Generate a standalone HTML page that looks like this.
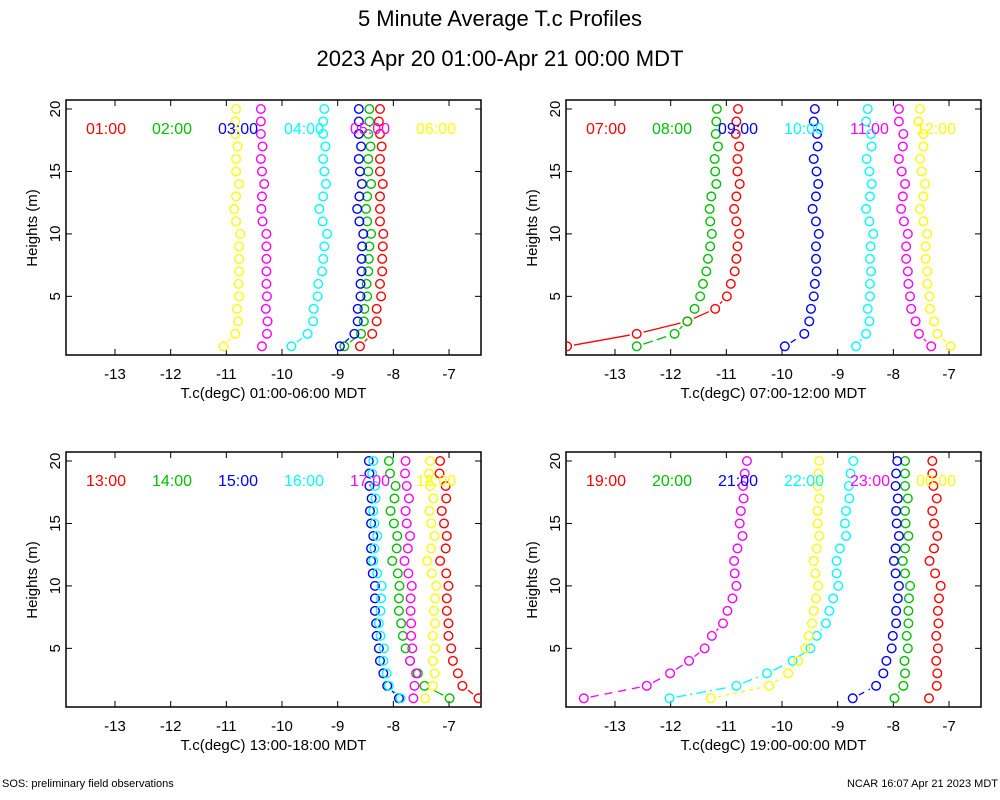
<!DOCTYPE html>
<html><head><meta charset="utf-8"><style>
body{margin:0;background:#fff;}
svg{display:block;font-family:"Liberation Sans",sans-serif;}
</style></head><body>
<svg id="chart" width="1000" height="800" viewBox="0 0 1000 800" xmlns="http://www.w3.org/2000/svg">
<text x="500" y="26" font-size="22" text-anchor="middle">5 Minute Average T.c Profiles</text>
<text x="500" y="66" font-size="22" text-anchor="middle">2023 Apr 20 01:00-Apr 21 00:00 MDT</text>
<text x="2" y="787" font-size="11">SOS: preliminary field observations</text>
<text x="998" y="787" font-size="11" text-anchor="end">NCAR 16:07 Apr 21 2023 MDT</text>
</svg>
<script>
const heights=[1,2,3,4,5,6,7,8,9,10,11,12,13,14,15,16,17,18,19,20];
const xTicks=[-13,-12,-11,-10,-9,-8,-7];
const yTicks=[5,10,15,20];
const colors=["#ff0000","#00c000","#0000ff","#00ffff","#ff00ff","#ffff00"];
const panelLabels=[["01:00","02:00","03:00","04:00","05:00","06:00"],["07:00","08:00","09:00","10:00","11:00","12:00"],["13:00","14:00","15:00","16:00","17:00","18:00"],["19:00","20:00","21:00","22:00","23:00","00:00"]];
const panelTitles=["T.c(degC) 01:00-06:00 MDT","T.c(degC) 07:00-12:00 MDT","T.c(degC) 13:00-18:00 MDT","T.c(degC) 19:00-00:00 MDT"];
const p1=[
[-8.60,-8.38,-8.30,-8.30,-8.22,-8.24,-8.20,-8.20,-8.19,-8.18,-8.24,-8.24,-8.24,-8.19,-8.24,-8.24,-8.21,-8.24,-8.26,-8.24],
[-8.88,-8.58,-8.53,-8.52,-8.47,-8.48,-8.45,-8.44,-8.43,-8.40,-8.47,-8.49,-8.47,-8.40,-8.45,-8.45,-8.41,-8.45,-8.43,-8.43],
[-8.96,-8.70,-8.64,-8.64,-8.59,-8.59,-8.57,-8.57,-8.56,-8.54,-8.61,-8.65,-8.61,-8.565,-8.60,-8.62,-8.58,-8.62,-8.62,-8.62],
[-9.83,-9.54,-9.44,-9.43,-9.36,-9.35,-9.28,-9.26,-9.24,-9.19,-9.27,-9.33,-9.26,-9.21,-9.24,-9.26,-9.22,-9.26,-9.26,-9.24],
[-10.36,-10.27,-10.26,-10.29,-10.27,-10.28,-10.28,-10.28,-10.28,-10.28,-10.35,-10.37,-10.36,-10.32,-10.36,-10.38,-10.35,-10.38,-10.38,-10.38],
[-11.05,-10.84,-10.79,-10.81,-10.77,-10.78,-10.77,-10.77,-10.77,-10.75,-10.825,-10.86,-10.825,-10.77,-10.825,-10.825,-10.80,-10.84,-10.84,-10.825]];
const p2=[
[-13.86,-12.61,-11.70,-11.20,-10.99,-10.92,-10.85,-10.82,-10.80,-10.77,-10.82,-10.86,-10.82,-10.76,-10.80,-10.80,-10.77,-10.83,-10.82,-10.79],
[-12.61,-11.93,-11.70,-11.57,-11.47,-11.42,-11.36,-11.33,-11.29,-11.26,-11.29,-11.30,-11.27,-11.18,-11.20,-11.21,-11.15,-11.19,-11.18,-11.17],
[-9.95,-9.60,-9.51,-9.48,-9.43,-9.41,-9.38,-9.39,-9.39,-9.34,-9.39,-9.45,-9.39,-9.35,-9.38,-9.43,-9.36,-9.37,-9.43,-9.41],
[-8.67,-8.49,-8.43,-8.46,-8.42,-8.42,-8.40,-8.42,-8.41,-8.36,-8.43,-8.49,-8.42,-8.39,-8.43,-8.48,-8.39,-8.40,-8.49,-8.46],
[-7.32,-7.54,-7.60,-7.68,-7.70,-7.73,-7.74,-7.77,-7.77,-7.74,-7.81,-7.86,-7.83,-7.79,-7.85,-7.90,-7.83,-7.82,-7.90,-7.90],
[-6.97,-7.21,-7.27,-7.34,-7.35,-7.39,-7.39,-7.42,-7.42,-7.39,-7.46,-7.52,-7.46,-7.43,-7.49,-7.52,-7.46,-7.46,-7.55,-7.52]];
const p3=[
[-6.47,-6.76,-6.84,-6.93,-6.96,-7.01,-7.01,-7.04,-7.04,-7.01,-7.05,-7.16,-7.06,-7.04,-7.09,-7.13,-7.05,-7.06,-7.17,-7.16],
[-6.99,-7.44,-7.56,-7.70,-7.78,-7.83,-7.86,-7.90,-7.90,-7.89,-7.92,-8.02,-7.94,-7.93,-7.99,-8.05,-7.98,-7.96,-8.06,-8.08],
[-7.90,-8.11,-8.18,-8.24,-8.26,-8.30,-8.31,-8.33,-8.33,-8.33,-8.37,-8.40,-8.40,-8.36,-8.40,-8.42,-8.39,-8.43,-8.43,-8.44],
[-7.87,-8.08,-8.12,-8.18,-8.17,-8.23,-8.26,-8.23,-8.22,-8.21,-8.29,-8.36,-8.34,-8.29,-8.34,-8.36,-8.32,-8.33,-8.38,-8.36],
[-7.64,-7.62,-7.59,-7.70,-7.66,-7.68,-7.68,-7.69,-7.69,-7.67,-7.73,-7.80,-7.74,-7.70,-7.76,-7.78,-7.72,-7.76,-7.79,-7.78],
[-7.43,-7.29,-7.26,-7.29,-7.25,-7.29,-7.25,-7.27,-7.25,-7.23,-7.31,-7.39,-7.32,-7.26,-7.32,-7.35,-7.28,-7.34,-7.36,-7.34]];
const p4=[
[-7.36,-7.22,-7.21,-7.23,-7.20,-7.23,-7.19,-7.20,-7.18,-7.15,-7.25,-7.35,-7.27,-7.21,-7.27,-7.30,-7.22,-7.28,-7.30,-7.30],
[-7.98,-7.82,-7.79,-7.80,-7.74,-7.76,-7.73,-7.73,-7.72,-7.70,-7.79,-7.83,-7.79,-7.73,-7.78,-7.79,-7.74,-7.79,-7.79,-7.79],
[-8.73,-8.31,-8.18,-8.125,-8.03,-8.01,-7.95,-7.95,-7.92,-7.90,-7.96,-7.99,-7.96,-7.90,-7.94,-7.95,-7.92,-7.96,-7.95,-7.93],
[-12.02,-10.82,-10.27,-9.81,-9.49,-9.375,-9.21,-9.15,-9.08,-8.99,-9.02,-9.02,-8.96,-8.85,-8.87,-8.85,-8.79,-8.80,-8.77,-8.72],
[-13.56,-12.43,-12.01,-11.67,-11.39,-11.26,-11.06,-10.98,-10.89,-10.82,-10.85,-10.86,-10.80,-10.71,-10.76,-10.74,-10.69,-10.70,-10.67,-10.63],
[-11.28,-10.23,-9.89,-9.71,-9.58,-9.52,-9.46,-9.43,-9.39,-9.35,-9.40,-9.43,-9.375,-9.33,-9.36,-9.36,-9.33,-9.36,-9.345,-9.33]];
const panelData=[p1,p2,p3,p4];
const dashes=["none","10,4","6,5","10,4,2,4","8,6","4,4"];
const NS="http://www.w3.org/2000/svg";
const svg=document.getElementById("chart");
function mk(tag,attrs,parent){const e=document.createElementNS(NS,tag);for(const k in attrs)e.setAttribute(k,attrs[k]);(parent||svg).appendChild(e);return e;}
const W=415,H=255;
const origins=[[66,100],[566,100],[66,452],[566,452]];
panelData.forEach((series,pi)=>{
  const [ox,oy]=origins[pi];
  const g=mk("g",{});
  
  
  const xs=t=>ox+49+(t+13)*55.67;
  const ys=h=>oy+9+(20-h)*12.49;
  const clip=mk("clipPath",{id:"c"+pi},g);
  mk("rect",{x:ox,y:oy,width:W,height:H},clip);
  const frame=mk("rect",{x:ox,y:oy,width:W,height:H,fill:"none",stroke:"#000","stroke-width":1.5},g);
  
  
  xTicks.forEach(t=>{
    const x=xs(t);
    mk("line",{x1:x,y1:oy+H,x2:x,y2:oy+H-6,stroke:"#000"},g);
    mk("line",{x1:x,y1:oy,x2:x,y2:oy+6,stroke:"#000"},g);
    const tx=mk("text",{x:x,y:oy+H+24,"font-size":15,"text-anchor":"middle"},g);
    tx.textContent=t;
    
    
  });
  yTicks.forEach(h=>{
    const y=ys(h);
    mk("line",{x1:ox,y1:y,x2:ox+6,y2:y,stroke:"#000"},g);
    mk("line",{x1:ox+W,y1:y,x2:ox+W-6,y2:y,stroke:"#000"},g);
    const tx=mk("text",{x:0,y:0,"font-size":15,"text-anchor":"middle",transform:`translate(${ox-6},${y}) rotate(-90)`},g);
    tx.textContent=h;
    
    
  });
  const yl=mk("text",{x:0,y:0,"font-size":15,"text-anchor":"middle",transform:`translate(${ox-29},${oy+128}) rotate(-90)`},g);
  yl.textContent="Heights (m)";
  
  
  const xl=mk("text",{x:ox+W/2,y:oy+H+43,"font-size":15,"text-anchor":"middle"},g);
  xl.textContent=panelTitles[pi];
  
  
  const plot=mk("g",{"clip-path":`url(#c${pi})`},g);
  series.forEach((vals,si)=>{
    const sg=mk("g",{},plot);
    
    
    for(let i=0;i<vals.length-1;i++){
      const x1=xs(vals[i]),y1=ys(heights[i]),x2=xs(vals[i+1]),y2=ys(heights[i+1]);
      const d=Math.hypot(x2-x1,y2-y1),gap=7;
      if(d>2*gap+1){
        const ux=(x2-x1)/d,uy=(y2-y1)/d;
        mk("line",{x1:x1+ux*gap,y1:y1+uy*gap,x2:x2-ux*gap,y2:y2-uy*gap,stroke:colors[si],"stroke-width":1.3,"stroke-dasharray":dashes[si]},sg);
      }
    }
    vals.forEach((v,i)=>{
      const c=mk("circle",{cx:xs(v),cy:ys(heights[i]),r:4.3,fill:"none",stroke:colors[si],"stroke-width":1.4},sg);
      
      
    });
  });
  panelLabels[pi].forEach((lab,si)=>{
    const t=mk("text",{x:ox+20+si*66,y:oy+34,"font-size":16,fill:colors[si]},g);
    t.textContent=lab;
    
    
  });
});
</script>
</body></html>
